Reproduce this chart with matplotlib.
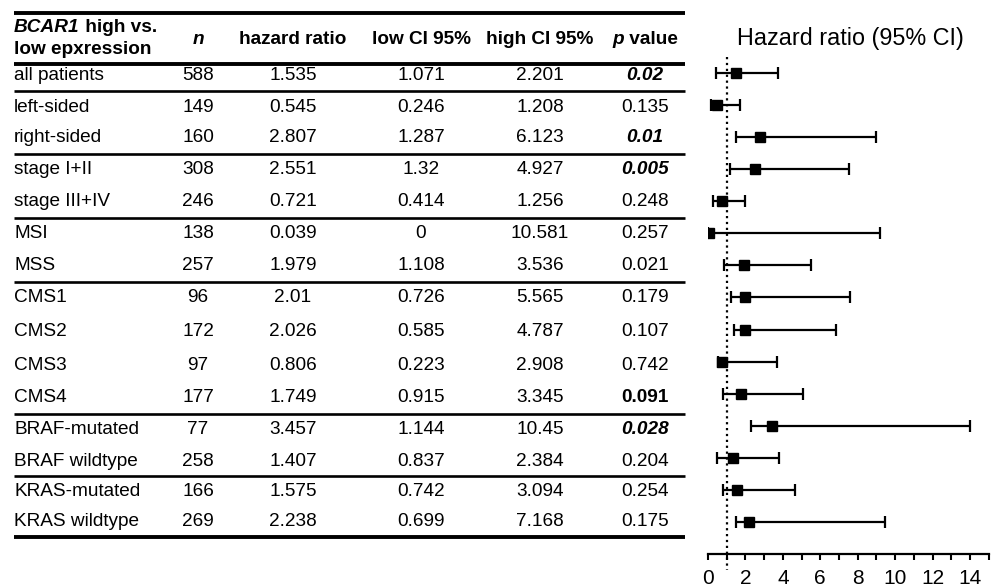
import matplotlib

matplotlib.use("Agg")
import matplotlib.pyplot as plt
from matplotlib.ticker import MultipleLocator

plt.rcParams["font.family"] = ["Liberation Sans", "DejaVu Sans"]

# table values
groups = [
    "all patients", "left-sided", "right-sided", "stage I+II", "stage III+IV",
    "MSI", "MSS", "CMS1", "CMS2", "CMS3", "CMS4",
    "BRAF-mutated", "BRAF wildtype", "KRAS-mutated", "KRAS wildtype",
]
n_patients = [588, 149, 160, 308, 246, 138, 257, 96, 172, 97, 177, 77, 258, 166, 269]
hazard_ratio = [1.535, 0.545, 2.807, 2.551, 0.721, 0.039, 1.979, 2.01, 2.026,
                0.806, 1.749, 3.457, 1.407, 1.575, 2.238]
ci_low = [1.071, 0.246, 1.287, 1.32, 0.414, 0, 1.108, 0.726, 0.585,
          0.223, 0.915, 1.144, 0.837, 0.742, 0.699]
ci_high = [2.201, 1.208, 6.123, 4.927, 1.256, 10.581, 3.536, 5.565, 4.787,
           2.908, 3.345, 10.45, 2.384, 3.094, 7.168]
p_values = [0.02, 0.135, 0.01, 0.005, 0.248, 0.257, 0.021, 0.179, 0.107,
            0.742, 0.091, 0.028, 0.204, 0.254, 0.175]
# emphasis of the p value cell as printed: "bi" bold italic, "b" bold
p_emphasis = ["bi", "", "bi", "bi", "", "", "", "", "", "", "b", "bi", "", "", ""]
# group boundaries (row index after which a rule is drawn)
group_ends = [0, 2, 4, 6, 10, 12]

# forest plot values, as drawn
forest_hr = [1.5, 0.5, 2.78, 2.53, 0.73, 0.05, 1.94, 1.98, 2.0,
             0.77, 1.75, 3.44, 1.35, 1.53, 2.19]
forest_lo = [0.43, 0.15, 1.48, 1.19, 0.27, 0.0, 0.86, 1.23, 1.41,
             0.55, 0.78, 2.28, 0.5, 0.78, 1.48]
forest_hi = [3.76, 1.71, 8.96, 7.54, 1.98, 9.2, 5.5, 7.6, 6.85,
             3.7, 5.1, 14.0, 3.81, 4.67, 9.46]

W, H = 996, 588
fig = plt.figure(figsize=(W / 100, H / 100), dpi=100)

# table drawn on a pixel-coordinate canvas
tab = fig.add_axes([0, 0, 1, 1])
tab.set_xlim(0, W)
tab.set_ylim(H, 0)
tab.axis("off")
renderer = fig.canvas.get_renderer()

FS = 13.7
x_left, x_right = 14, 685
col_x = {"n": 198, "hr": 293, "lo": 421, "hi": 540, "p": 645}
row_y = [75, 107, 138, 170, 202, 234, 265, 298, 331, 365, 398, 430, 461, 491, 521]


def text_width(t):
    bb = t.get_window_extent(renderer)
    return bb.width


# header
t1 = tab.text(x_left, 28, "BCAR1", fontsize=FS, fontweight="bold",
              fontstyle="italic", ha="left", va="center")
tab.text(x_left + text_width(t1), 28, " high vs.", fontsize=FS,
         fontweight="bold", ha="left", va="center")
tab.text(x_left, 49, "low epxression", fontsize=FS, fontweight="bold",
         ha="left", va="center")
tab.text(col_x["n"], 40, "n", fontsize=FS, fontweight="bold",
         fontstyle="italic", ha="center", va="center")
tab.text(col_x["hr"], 40, "hazard ratio", fontsize=FS, fontweight="bold",
         ha="center", va="center")
tab.text(col_x["lo"], 40, "low CI 95%", fontsize=FS, fontweight="bold",
         ha="center", va="center")
tab.text(col_x["hi"], 40, "high CI 95%", fontsize=FS, fontweight="bold",
         ha="center", va="center")
tp = tab.text(0, 40, "p", fontsize=FS, fontweight="bold", fontstyle="italic",
              ha="left", va="center")
tv = tab.text(0, 40, " value", fontsize=FS, fontweight="bold",
              ha="left", va="center")
wp, wv = text_width(tp), text_width(tv)
start = col_x["p"] - (wp + wv) / 2
tp.set_x(start)
tv.set_x(start + wp)

# body
for i, g in enumerate(groups):
    y = row_y[i]
    tab.text(x_left, y, g, fontsize=FS, ha="left", va="center")
    tab.text(col_x["n"], y, str(n_patients[i]), fontsize=FS, ha="center", va="center")
    tab.text(col_x["hr"], y, f"{hazard_ratio[i]:g}", fontsize=FS, ha="center", va="center")
    tab.text(col_x["lo"], y, f"{ci_low[i]:g}", fontsize=FS, ha="center", va="center")
    tab.text(col_x["hi"], y, f"{ci_high[i]:g}", fontsize=FS, ha="center", va="center")
    emph = p_emphasis[i]
    tab.text(col_x["p"], y, f"{p_values[i]:g}", fontsize=FS, ha="center", va="center",
             fontweight="bold" if "b" in emph else "normal",
             fontstyle="italic" if "i" in emph else "normal")

# rules
tab.hlines([13, 64, 537], x_left, x_right, color="black", lw=2.8)
sep_y = [(row_y[i] + row_y[i + 1]) / 2 for i in group_ends]
tab.hlines(sep_y, x_left, x_right, color="black", lw=1.9)

# forest plot
fx0, fx1 = 708, 988.7
fy0, fy1 = 57, 554
ax = fig.add_axes([fx0 / W, 1 - fy1 / H, (fx1 - fx0) / W, (fy1 - fy0) / H])
ypos = list(range(len(groups)))
xerr = [[h - lo for h, lo in zip(forest_hr, forest_lo)],
        [hi - h for h, hi in zip(forest_hr, forest_hi)]]
ax.errorbar(forest_hr, ypos, xerr=xerr, fmt="s", color="black", ms=6.5,
            elinewidth=1.6, capsize=4, capthick=1.6)
ax.plot([1, 1], [-0.5, 15.5], color="black", ls=":", lw=1.6, clip_on=False)

ax.set_xlim(0, 15)
ax.set_ylim(15.0, -0.5)
for s in ["top", "left", "right"]:
    ax.spines[s].set_visible(False)
ax.spines["bottom"].set_linewidth(1.6)
ax.set_yticks([])
ax.xaxis.set_major_locator(MultipleLocator(2))
ax.xaxis.set_minor_locator(MultipleLocator(1))
ax.tick_params(axis="x", which="both", direction="out", length=4, width=1.5,
               labelsize=15, pad=7, colors="black")
ax.patch.set_alpha(0)

fig.text(850 / W, 1 - 38 / H, "Hazard ratio (95% CI)", fontsize=16.8,
         ha="center", va="center")

fig.savefig("out.png", dpi=100)
